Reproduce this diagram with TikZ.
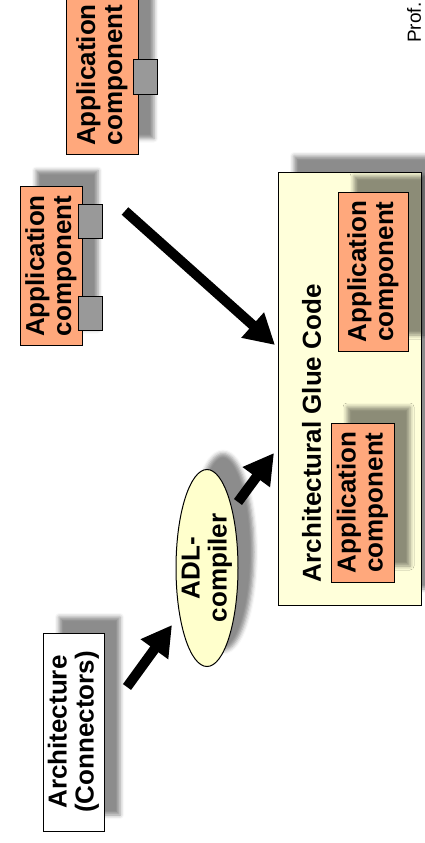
\documentclass[tikz,border=0pt]{standalone}
\usepackage{fontspec}
\setmainfont{Liberation Sans}
\usetikzlibrary{positioning,shapes.geometric,arrows.meta,shadows.blur}

\definecolor{compfill}{HTML}{FFA87C}
\definecolor{gluefill}{HTML}{FFFFDA}
\definecolor{adlfill}{HTML}{FFFFCC}
\definecolor{portfill}{HTML}{999999}

\tikzset{
  drop/.style={blur shadow={shadow xshift=16pt,shadow yshift=16pt,shadow opacity=45,shadow blur radius=4pt}},
  box/.style={draw,line width=1pt,rotate=90,align=center,inner sep=1pt,font=\fontsize{26}{27}\selectfont\bfseries},
  comp/.style={box,fill=compfill,drop,minimum width=159pt},
  port/.style={draw,line width=1pt,fill=portfill,minimum width=24pt,minimum height=34pt,inner sep=0pt},
  fat/.style={line width=10pt,-{Triangle[length=30pt,width=32pt]}}
}

\begin{document}
\begin{tikzpicture}[x=1pt,y=-1pt]
        \useasboundingbox (0,0) rectangle (424,843);

        \coordinate (A) at (73.5,732);
        \coordinate (E) at (207,568);
        \coordinate (G) at (349.5,388.5);
        \node[box,fill=white,drop,minimum width=198pt,minimum height=61pt] (arch) at (A) {Architecture\\(Connectors)};
        \node[box,ellipse,fill=adlfill,drop,minimum width=197pt,minimum height=62pt,inner xsep=0pt,inner ysep=-5pt] (adl) at (E) {ADL-\\compiler};
        \node[box,fill=gluefill,drop,minimum width=433pt,minimum height=143pt] (glue) at (G) {};
        \node[box,draw=none,anchor=west,inner sep=0pt] (title) at ([xshift=34pt,yshift=23pt]glue.north west) {Architectural Glue Code};

        % components inside the glue code
        \node[comp,minimum height=70pt] (appa) at (373,271.5) {Application\\component};
        \node[comp,minimum height=63pt] (appb) at (362.5,502.5) {Application\\component};

        % components outside
        \node[comp,minimum height=62pt] (appc) at (51,266) {Application\\component};
        \node[comp,minimum height=72pt] (appd) at (102,75) {Application\\component};
        \node[port] (pc1) at (90,221) {};
        \node[port] (pc2) at (90,313.5) {};
        \node[port] (pd1) at (145,77) {};

        \coordinate (archout) at (127,687);
        \coordinate (adlin) at (172,625);
        \coordinate (adlout) at (238,502);
        \coordinate (gluein) at (274,453);
        \coordinate (compout) at (125,211);
        \coordinate (gluetop) at (275,345);
        \draw[fat] (archout) -- (adlin);
        \draw[fat] (adlout) -- (gluein);
        \draw[fat] (compout) -- (gluetop);

        \node[rotate=90,anchor=west,inner sep=0pt,font=\fontsize{19}{22}\selectfont] (prof) at (414,43) {Prof.};
      \end{tikzpicture}
\end{document}
